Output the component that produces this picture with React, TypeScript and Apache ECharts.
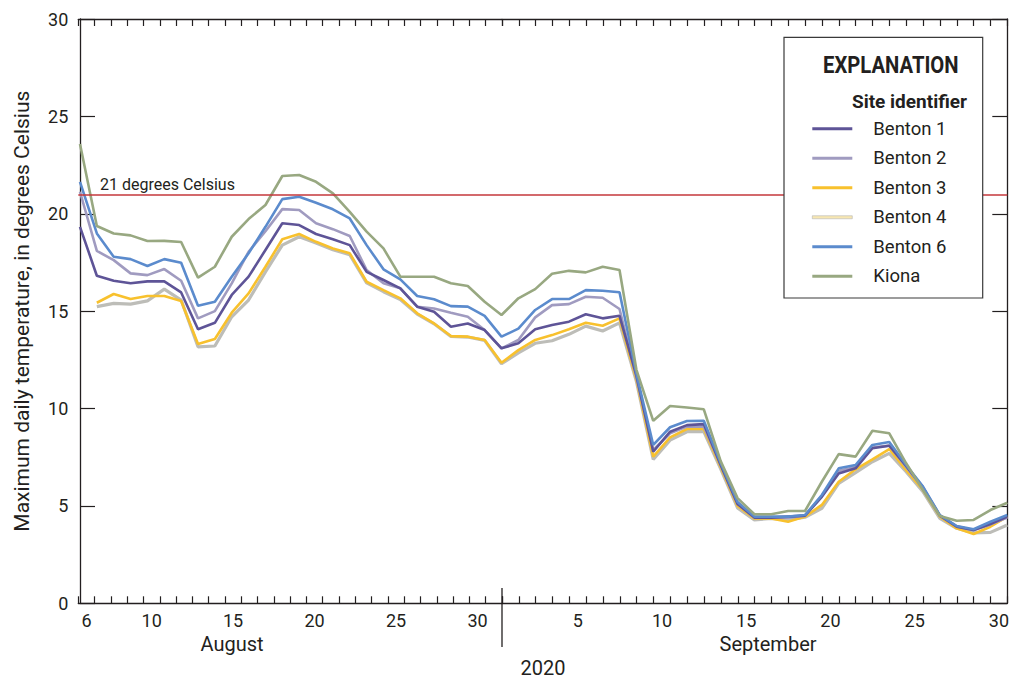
import React, { useEffect, useRef } from "react";
import * as echarts from "echarts";

const FONT = "Roboto, 'Liberation Sans', sans-serif";
const INK = "#231f20";

// Daily dates plotted (Aug 6 – Sep 30, 2020)
const dates: string[] = [
  "2020-08-06","2020-08-07","2020-08-08","2020-08-09","2020-08-10","2020-08-11","2020-08-12","2020-08-13","2020-08-14","2020-08-15",
  "2020-08-16","2020-08-17","2020-08-18","2020-08-19","2020-08-20","2020-08-21","2020-08-22","2020-08-23","2020-08-24","2020-08-25",
  "2020-08-26","2020-08-27","2020-08-28","2020-08-29","2020-08-30","2020-08-31","2020-09-01","2020-09-02","2020-09-03","2020-09-04",
  "2020-09-05","2020-09-06","2020-09-07","2020-09-08","2020-09-09","2020-09-10","2020-09-11","2020-09-12","2020-09-13","2020-09-14",
  "2020-09-15","2020-09-16","2020-09-17","2020-09-18","2020-09-19","2020-09-20","2020-09-21","2020-09-22","2020-09-23","2020-09-24",
  "2020-09-25","2020-09-26","2020-09-27","2020-09-28","2020-09-29","2020-09-30",
];

const benton1: (number | null)[] = [
  19.33, 16.82, 16.56, 16.43, 16.53, 16.53, 15.96, 14.07, 14.4, 15.83,
  16.77, 18.14, 19.51, 19.42, 18.96, 18.69, 18.39, 17.02, 16.6, 16.17,
  15.23, 14.97, 14.2, 14.37, 14.03, 13.09, 13.35, 14.07, 14.29, 14.46,
  14.84, 14.63, 14.76, 11.7, 7.78, 8.81, 9.15, 9.2, 7.1, 5.1,
  4.4, 4.4, 4.45, 4.5, 5.47, 6.67, 6.93, 7.96, 8.09, 7.05,
  5.95, 4.5, 3.93, 3.76, 4.07, 4.45,
];
const benton2: (number | null)[] = [
  21.13, 18.09, 17.62, 16.94, 16.85, 17.16, 16.56, 14.63, 15.0, 16.43,
  18.05, 19.1, 20.24, 20.19, 19.51, 19.21, 18.86, 17.11, 16.43, 16.17,
  15.23, 15.14, 14.92, 14.71, 14.03, 13.09, 13.52, 14.68, 15.31, 15.36,
  15.74, 15.69, 15.11, 11.6, 7.87, 8.73, 9.07, 9.07, 7.1, 5.1,
  4.4, 4.4, 4.4, 4.5, 5.5, 6.8, 7.0, 8.0, 8.1, 7.0,
  5.9, 4.5, 3.95, 3.75, 4.05, 4.4,
];
const benton3: (number | null)[] = [
  null, 15.43, 15.88, 15.62, 15.78, 15.78, 15.52, 13.31, 13.57, 14.92,
  15.91, 17.28, 18.69, 18.96, 18.56, 18.22, 17.97, 16.51, 16.08, 15.66,
  14.89, 14.37, 13.72, 13.69, 13.52, 12.35, 13.0, 13.52, 13.77, 14.07,
  14.4, 14.25, 14.63, 11.5, 7.53, 8.52, 8.95, 8.95, 7.0, 5.0,
  4.36, 4.36, 4.19, 4.45, 5.05, 6.24, 6.88, 7.39, 7.92, 6.84,
  5.82, 4.45, 3.85, 3.56, 3.93, 4.45,
];
const benton4: (number | null)[] = [
  null, 15.23, 15.4, 15.36, 15.53, 16.13, 15.57, 13.17, 13.21, 14.71,
  15.57, 17.02, 18.39, 18.82, 18.5, 18.15, 17.9, 16.45, 16.0, 15.6,
  14.85, 14.35, 13.7, 13.67, 13.5, 12.3, 12.86, 13.35, 13.48, 13.81,
  14.23, 13.98, 14.4, 11.4, 7.39, 8.38, 8.81, 8.81, 6.9, 4.9,
  4.28, 4.36, 4.28, 4.42, 4.88, 6.16, 6.71, 7.27, 7.7, 6.76,
  5.73, 4.36, 3.85, 3.62, 3.64, 4.02,
];
const benton6: (number | null)[] = [
  21.64, 18.99, 17.79, 17.67, 17.32, 17.67, 17.49, 15.28, 15.48, 16.77,
  17.97, 19.33, 20.75, 20.87, 20.57, 20.23, 19.76, 18.39, 17.15, 16.63,
  15.78, 15.61, 15.26, 15.23, 14.76, 13.69, 14.1, 15.06, 15.62, 15.62,
  16.08, 16.05, 15.97, 11.8, 8.13, 9.04, 9.36, 9.37, 7.2, 5.2,
  4.45, 4.45, 4.45, 4.53, 5.56, 6.93, 7.1, 8.13, 8.28, 7.1,
  5.99, 4.53, 3.97, 3.8, 4.19, 4.53,
];
const kiona: (number | null)[] = [
  23.58, 19.37, 18.99, 18.89, 18.6, 18.61, 18.55, 16.72, 17.28, 18.82,
  19.73, 20.45, 21.94, 21.99, 21.64, 21.05, 20.1, 19.08, 18.22, 16.77,
  16.77, 16.77, 16.43, 16.29, 15.48, 14.8, 15.66, 16.13, 16.92, 17.07,
  16.99, 17.28, 17.11, 12.0, 9.37, 10.13, 10.05, 9.96, 7.3, 5.4,
  4.57, 4.57, 4.74, 4.74, 6.24, 7.66, 7.53, 8.86, 8.73, 7.19,
  5.82, 4.48, 4.24, 4.28, 4.79, 5.16,
];

const thresholdC = 21;

const augDays: string[] = ["6","7","8","9","10","11","12","13","14","15","16","17","18","19","20","21","22","23","24","25","26","27","28","29","30","31"];
const sepDays: string[] = ["1","2","3","4","5","6","7","8","9","10","11","12","13","14","15","16","17","18","19","20","21","22","23","24","25","26","27","28","29","30"];
const augShown: string[] = ["6", "10", "15", "20", "25", "30"];
const sepShown: string[] = ["5", "10", "15", "20", "25", "30"];
const yTicks = { min: 0, max: 30, interval: 5 };

const seriesDefs = [
  { name: "Benton 1", data: benton1, color: "#5e5497", width: 2.6 },
  { name: "Benton 2", data: benton2, color: "#a09bc0", width: 2.6 },
  { name: "Benton 3", data: benton3, color: "#f8c12d", width: 2.6 },
  { name: "Benton 4", data: benton4, color: "#bdbdb8", width: 3.2, legendColor: "#f7e7b2" },
  { name: "Benton 6", data: benton6, color: "#5b8bcd", width: 2.6 },
  { name: "Kiona", data: kiona, color: "#98a881", width: 2.6 },
];
const drawOrder = ["Benton 4", "Benton 3", "Benton 2", "Benton 1", "Benton 6", "Kiona"];

export default function App() {
  const ref = useRef<HTMLDivElement>(null);
  useEffect(() => {
    if (!ref.current) return;
    const chart = echarts.init(ref.current, null, { renderer: "svg" });
    const top = 19;
    const bottom = 79.7;
    const left = 78.3;
    const right = 4.7;
    const sepX = 502;

    const catAxisCommon = (gridIndex: number, data: string[], position: string, shown: string[] | null) => ({
      type: "category",
      gridIndex,
      position,
      data,
      boundaryGap: true,
      axisLine: { show: true, lineStyle: { color: INK, width: 1.3 } },
      axisTick: { show: true, inside: true, length: 7, interval: 0, lineStyle: { color: INK, width: 1.2 } },
      axisLabel: shown
        ? {
            show: true,
            interval: (_i: number, v: string) => shown.includes(v),
            color: INK,
            fontSize: 18,
            fontFamily: FONT,
            margin: 8,
          }
        : { show: false },
      splitLine: { show: false },
    });

    const series: any[] = drawOrder.map((nm) => {
      const d = seriesDefs.find((s) => s.name === nm)!;
      const s: any = {
        name: d.name,
        type: "line",
        xAxisIndex: 0,
        yAxisIndex: 0,
        data: dates.map((_dt, i) => [i, d.data[i]]),
        showSymbol: false,
        symbol: "none",
        connectNulls: false,
        lineStyle: { color: d.color, width: d.width },
        itemStyle: { color: d.color },
        z: 3,
      };
      if (nm === "Benton 4") {
        s.itemStyle = { color: d.legendColor, borderColor: "#b5b5b5", borderWidth: 0.6 };
      }
      if (nm === "Kiona") {
        s.markLine = {
          silent: true,
          symbol: "none",
          animation: false,
          label: { show: false },
          lineStyle: { color: "#c4373b", width: 1.5, type: "solid" },
          data: [{ yAxis: thresholdC }],
        };
      }
      return s;
    });

    const option: any = {
      animation: false,
      backgroundColor: "#ffffff",
      textStyle: { fontFamily: FONT, color: INK },
      grid: [
        { left, right, top, bottom },
        { left, width: sepX - left, top, bottom },
        { left: sepX, right, top, bottom },
      ],
      xAxis: [
        { type: "value", gridIndex: 0, min: -0.1, max: 55, show: false },
        catAxisCommon(1, augDays, "bottom", augShown),
        catAxisCommon(2, sepDays, "bottom", sepShown),
        catAxisCommon(1, augDays, "top", null),
        catAxisCommon(2, sepDays, "top", null),
      ],
      yAxis: [
        {
          type: "value",
          gridIndex: 0,
          min: yTicks.min,
          max: yTicks.max,
          interval: yTicks.interval,
          position: "left",
          axisLine: { show: true, lineStyle: { color: INK, width: 1.3 } },
          axisTick: { show: true, inside: true, length: 15, lineStyle: { color: INK, width: 1.2 } },
          axisLabel: { color: INK, fontSize: 18, fontFamily: FONT, margin: 10 },
          splitLine: { show: false },
          name: "Maximum daily temperature, in degrees Celsius",
          nameLocation: "middle",
          nameGap: 46,
          nameTextStyle: { color: INK, fontSize: 21, fontFamily: FONT },
        },
        { type: "value", gridIndex: 1, min: 0, max: 30, show: false },
        {
          type: "value",
          gridIndex: 2,
          min: yTicks.min,
          max: yTicks.max,
          interval: yTicks.interval,
          position: "right",
          axisLine: { show: true, lineStyle: { color: INK, width: 1.3 } },
          axisTick: { show: true, inside: true, length: 15, lineStyle: { color: INK, width: 1.2 } },
          axisLabel: { show: false },
          splitLine: { show: false },
        },
      ],
      legend: {
        orient: "vertical",
        left: 812,
        top: 114,
        padding: 0,
        itemWidth: 40,
        itemHeight: 3,
        itemGap: 0,
        icon: "rect",
        selectedMode: false,
        z: 20,
        textStyle: { fontSize: 18.5, color: INK, fontFamily: FONT, lineHeight: 29.5, padding: [0, 0, 0, 16] },
        data: seriesDefs.map((s) =>
          s.legendColor
            ? { name: s.name, itemStyle: { color: s.legendColor, borderColor: "#b5b5b5", borderWidth: 0.6 } }
            : { name: s.name, itemStyle: { color: s.color } }
        ),
      },
      graphic: [
        {
          type: "rect",
          z: 15,
          shape: { x: 784, y: 37.3, width: 198.7, height: 260.7 },
          style: { fill: "#ffffff", stroke: "#3a3a3a", lineWidth: 1.2 },
        },
        {
          type: "text",
          z: 16,
          x: 890.8,
          y: 65,
          scaleX: 0.88,
          style: { text: "EXPLANATION", font: `bold 23px ${FONT}`, fill: INK, textAlign: "center", textVerticalAlign: "middle" },
        },
        {
          type: "text",
          z: 16,
          x: 967,
          y: 101.7,
          style: { text: "Site identifier", font: `bold 19px ${FONT}`, fill: INK, textAlign: "right", textVerticalAlign: "middle" },
        },
        {
          type: "text",
          z: 16,
          x: 100,
          y: 184,
          style: { text: "21 degrees Celsius", font: `16px ${FONT}`, fill: INK, textAlign: "left", textVerticalAlign: "middle" },
        },
        {
          type: "text",
          x: 232,
          y: 644,
          style: { text: "August", font: `20px ${FONT}`, fill: INK, textAlign: "center", textVerticalAlign: "middle" },
        },
        {
          type: "text",
          x: 768,
          y: 644,
          style: { text: "September", font: `20px ${FONT}`, fill: INK, textAlign: "center", textVerticalAlign: "middle" },
        },
        {
          type: "text",
          x: 543,
          y: 668,
          style: { text: "2020", font: `20px ${FONT}`, fill: INK, textAlign: "center", textVerticalAlign: "middle" },
        },
        {
          type: "line",
          shape: { x1: sepX, y1: 588, x2: sepX, y2: 647 },
          style: { stroke: INK, lineWidth: 1.3 },
        },
      ],
      series,
    };
    chart.setOption(option);
    return () => chart.dispose();
  }, []);
  return <div ref={ref} style={{ position: "absolute", left: 0, top: 0, width: 1012, height: 683 }} />;
}
